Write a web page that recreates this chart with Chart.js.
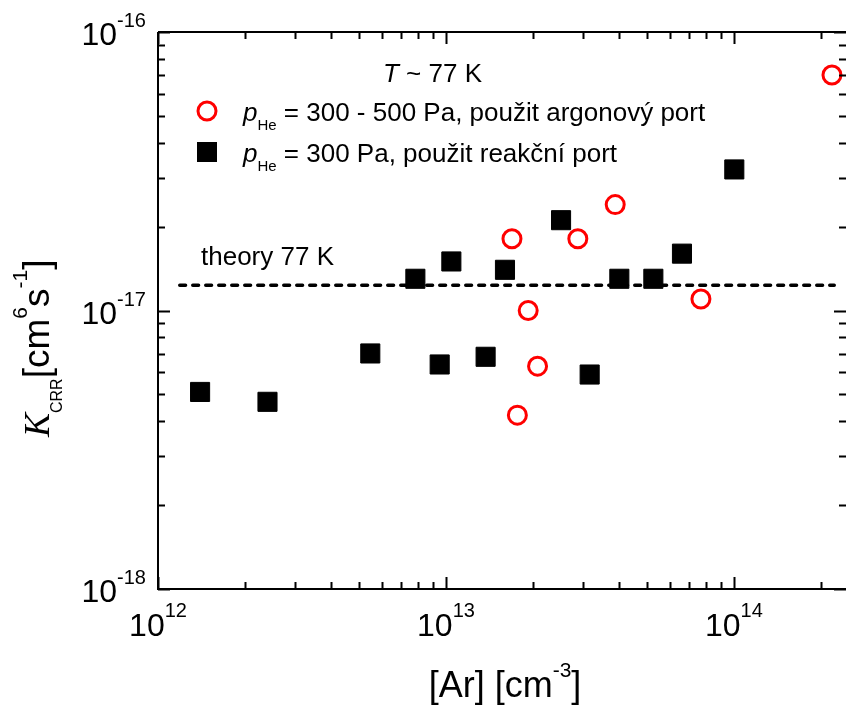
<!DOCTYPE html>
<html lang="cs">
<head>
  <meta charset="UTF-8" />
  <title>K_CRR vs [Ar]</title>
  <style>
    body { margin: 0; padding: 0; background: #fff; overflow: hidden; }
    canvas { display: block; }
  </style>
</head>
<body>
  <canvas id="chart" width="846" height="709"></canvas>

  <script src="https://cdn.jsdelivr.net/npm/chart.js"></script>
  <script>
    // data
    const squareAr = [1.40e12, 2.40e12, 5.46e12, 7.83e12, 9.51e12, 1.044e13, 1.373e13, 1.603e13, 2.51e13, 3.155e13, 4.0e13, 5.25e13, 6.60e13, 1.003e14];
    const squareK  = [5.10e-18, 4.70e-18, 7.01e-18, 1.30e-17, 6.40e-18, 1.50e-17, 6.82e-18, 1.40e-17, 2.11e-17, 5.89e-18, 1.30e-17, 1.30e-17, 1.60e-17, 3.21e-17];
    const circleAr = [1.695e13, 1.77e13, 1.93e13, 2.08e13, 2.87e13, 3.87e13, 7.68e13, 2.19e14];
    const circleK  = [1.81e-17, 4.21e-18, 1.0e-17, 6.31e-18, 1.81e-17, 2.40e-17, 1.10e-17, 7.01e-17];
    const theoryAr = [1.19e12, 2.23e14];
    const theoryK  = [1.233e-17, 1.233e-17];

    const xDecades = [12, 13, 14];
    const yDecades = [-18, -17, -16];
    const xMin = 1e12, xMax = 2.45e14;
    const yMin = 1e-18, yMax = 1e-16;

    const sansFont = '"Liberation Sans", Arial, sans-serif';
    const serifFont = '"Liberation Serif", "Times New Roman", serif';

    function pairs(xs, ys) {
      return xs.map((x, i) => ({ x: x, y: ys[i] }));
    }

    function minorValues(lo, hi) {
      const out = [];
      for (let e = Math.floor(Math.log10(lo)); e <= Math.ceil(Math.log10(hi)); e++) {
        for (let m = 1; m <= 9; m++) {
          const v = m * Math.pow(10, e);
          if (v >= lo * 0.999 && v <= hi * 1.001) out.push({ v: v, major: m === 1 });
        }
      }
      return out;
    }

    // draws a run of text pieces: [text, font, baselineOffset]
    function drawPieces(ctx, x, y, pieces) {
      let cx = x;
      pieces.forEach(p => {
        ctx.font = p[1];
        ctx.fillText(p[0], cx, y + p[2]);
        cx += ctx.measureText(p[0]).width;
      });
      return cx;
    }
    function piecesWidth(ctx, pieces) {
      let w = 0;
      pieces.forEach(p => { ctx.font = p[1]; w += ctx.measureText(p[0]).width; });
      return w;
    }

    const decorPlugin = {
      id: 'decor',
      afterDatasetsDraw(chart) {
        const ctx = chart.ctx;
        const xs = chart.scales.x, ys = chart.scales.y;
        const a = chart.chartArea;
        ctx.save();
        ctx.strokeStyle = '#000';
        ctx.fillStyle = '#000';

        // frame
        ctx.lineWidth = 2;
        ctx.beginPath();
        ctx.moveTo(a.left, a.top);
        ctx.lineTo(a.right, a.top);
        ctx.moveTo(a.left, a.top);
        ctx.lineTo(a.left, a.bottom);
        ctx.lineTo(a.right, a.bottom);
        ctx.stroke();

        // inward ticks on all four sides
        ctx.lineWidth = 2;
        minorValues(xMin, xMax).forEach(t => {
          const px = Math.round(xs.getPixelForValue(t.v)) + 0.5;
          const len = t.major ? 12 : 7;
          ctx.beginPath();
          ctx.moveTo(px, a.bottom); ctx.lineTo(px, a.bottom - len);
          ctx.moveTo(px, a.top); ctx.lineTo(px, a.top + len);
          ctx.stroke();
        });
        minorValues(yMin, yMax).forEach(t => {
          const py = Math.round(ys.getPixelForValue(t.v)) + 0.5;
          const len = t.major ? 12 : 7;
          ctx.beginPath();
          ctx.moveTo(a.left, py); ctx.lineTo(a.left + len, py);
          ctx.moveTo(a.right, py); ctx.lineTo(a.right - len, py);
          ctx.stroke();
        });

        // tick labels 10^n
        ctx.textBaseline = 'alphabetic';
        ctx.textAlign = 'left';
        const big = '32px ' + sansFont, small = '20px ' + sansFont;
        xDecades.forEach(e => {
          const px = xs.getPixelForValue(Math.pow(10, e));
          const pcs = [['10', big, 0], [String(e), small, -19]];
          const w = piecesWidth(ctx, pcs);
          drawPieces(ctx, px - w / 2, 636, pcs);
        });
        yDecades.forEach(e => {
          const py = ys.getPixelForValue(Math.pow(10, e));
          ctx.font = big;
          const w10 = ctx.measureText('10').width;
          drawPieces(ctx, 117 - w10, py + 13, [['10', big, 0], [String(e), small, -18]]);
        });

        // x axis title
        const xt = [['[Ar] [cm', '36px ' + sansFont, 0], ['-3', '21px ' + sansFont, -20], [']', '36px ' + sansFont, 0]];
        drawPieces(ctx, 505 - piecesWidth(ctx, xt) / 2, 697, xt);

        // y axis title, rotated
        ctx.save();
        ctx.translate(49, 437);
        ctx.rotate(-Math.PI / 2);
        drawPieces(ctx, 0, 0, [
          ['K', 'italic 36px ' + serifFont, 0],
          ['CRR', '16px ' + sansFont, 13],
          ['[cm', '37px ' + sansFont, 0],
          ['6', '21px ' + sansFont, -22],
          ['s', '37px ' + sansFont, 0],
          ['-1', '21px ' + sansFont, -22],
          [']', '37px ' + sansFont, 0]
        ]);
        ctx.restore();

        // annotations and legend
        const f26 = '26px ' + sansFont, i26 = 'italic 26px ' + sansFont, sub = '15px ' + sansFont;
        drawPieces(ctx, 383, 82, [['T', i26, 0], [' ~ 77 K', f26, 0]]);
        drawPieces(ctx, 243, 121, [['p', i26, 0], ['He', sub, 9], [' = 300 - 500 Pa, použit argonový port', f26, 0]]);
        drawPieces(ctx, 243, 162, [['p', i26, 0], ['He', sub, 9], [' = 300 Pa, použit reakční port', f26, 0]]);
        drawPieces(ctx, 201, 265, [['theory 77 K', f26, 0]]);

        ctx.strokeStyle = '#ff0000';
        ctx.lineWidth = 3;
        ctx.beginPath();
        ctx.arc(207, 111, 9, 0, Math.PI * 2);
        ctx.stroke();
        ctx.fillStyle = '#000';
        ctx.fillRect(197, 142, 20, 20);

        ctx.restore();
      }
    };

    new Chart(document.getElementById('chart').getContext('2d'), {
      type: 'scatter',
      data: {
        datasets: [
          {
            label: 'p_He = 300 - 500 Pa, použit argonový port',
            data: pairs(circleAr, circleK),
            pointStyle: 'circle',
            pointRadius: 9,
            borderWidth: 3,
            borderColor: '#ff0000',
            backgroundColor: 'rgba(0,0,0,0)',
            order: 1
          },
          {
            label: 'p_He = 300 Pa, použit reakční port',
            data: pairs(squareAr, squareK),
            pointStyle: 'rect',
            pointRadius: 13.5,
            borderWidth: 1,
            borderColor: '#000',
            backgroundColor: '#000',
            order: 2
          },
          {
            label: 'theory 77 K',
            data: pairs(theoryAr, theoryK),
            showLine: true,
            pointRadius: 0,
            borderColor: '#000',
            borderWidth: 3.5,
            borderDash: [5.8, 7.2],
            borderCapStyle: 'round',
            order: 3
          }
        ]
      },
      options: {
        responsive: false,
        animation: false,
        layout: { autoPadding: false, padding: { left: 158, right: 0, top: 32, bottom: 120 } },
        plugins: { legend: { display: false }, tooltip: { enabled: false } },
        scales: {
          x: { type: 'logarithmic', min: xMin, max: xMax, display: false },
          y: { type: 'logarithmic', min: yMin, max: yMax, display: false }
        }
      },
      plugins: [decorPlugin]
    });
  </script>
</body>
</html>
